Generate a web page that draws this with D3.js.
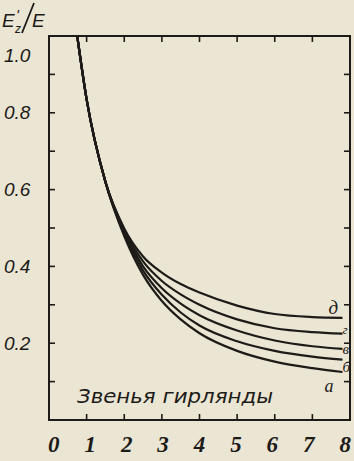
<!DOCTYPE html>
<html>
<head>
<meta charset="utf-8">
<script src="https://cdn.jsdelivr.net/npm/d3@7"></script>
<style>
  body { margin: 0; background: #ebe5d3; }
  svg { display: block; }
</style>
</head>
<body>
<script>
var w = 354;
var h = 461;

// data
//************** */
var links = [0.75, 1, 1.5, 2, 2.5, 3, 3.5, 4, 5, 6, 7, 7.8];
var curveNames = ["а", "б", "в", "г", "д"];
var curveA = [1.0, 0.835, 0.62, 0.479, 0.378, 0.31, 0.262, 0.226, 0.18, 0.152, 0.135, 0.125];
var curveB = [1.0, 0.835, 0.62, 0.484, 0.389, 0.326, 0.28, 0.246, 0.205, 0.18, 0.165, 0.157];
var curveV = [1.0, 0.835, 0.62, 0.489, 0.40, 0.343, 0.303, 0.273, 0.233, 0.207, 0.192, 0.185];
var curveG = [1.0, 0.835, 0.62, 0.494, 0.413, 0.362, 0.327, 0.3, 0.262, 0.239, 0.229, 0.225];
var curveD = [1.0, 0.835, 0.62, 0.499, 0.426, 0.384, 0.354, 0.332, 0.298, 0.276, 0.268, 0.266];
var xTicks = [0, 1, 2, 3, 4, 5, 6, 7, 8];
var yLabels = [0.2, 0.4, 0.6, 0.8, 1.0];
var yMinor = d3.range(1, 10).map(function (i) { return i / 10; });

var series = [curveA, curveB, curveV, curveG, curveD];

// label offsets from the end of each curve (px)
var labelDx = [-18, 0, 0, 0, -14];
var labelDy = [14, 7, 0, -4, -11];
var labelSize = [18, 15, 15, 13, 19];

var ink = "#1d1b18";

var x = d3.scaleLinear().domain([0, 8]).range([49, 350]);
var y = d3.scaleLinear().domain([0, 1]).range([420, 36]);

var svg = d3.select("body")
    .append("svg")
    .attr("width", w)
    .attr("height", h);

//Frame
//************** */
svg.append("rect")
    .attr("x", x(0))
    .attr("y", y(1))
    .attr("width", x(8) - x(0))
    .attr("height", y(0) - y(1))
    .style("fill", "none")
    .style("stroke", ink)
    .style("stroke-width", 2);

//inward ticks on all four sides
svg.selectAll(".tb")
    .data(xTicks.slice(1, -1))
    .enter()
    .append("line")
    .attr("x1", function (d) { return x(d); })
    .attr("x2", function (d) { return x(d); })
    .attr("y1", y(0))
    .attr("y2", y(0) - 6)
    .style("stroke", ink)
    .style("stroke-width", 1.6);

svg.selectAll(".tt")
    .data(xTicks.slice(1, -1))
    .enter()
    .append("line")
    .attr("x1", function (d) { return x(d); })
    .attr("x2", function (d) { return x(d); })
    .attr("y1", y(1))
    .attr("y2", y(1) + 6)
    .style("stroke", ink)
    .style("stroke-width", 1.6);

svg.selectAll(".tl")
    .data(yMinor)
    .enter()
    .append("line")
    .attr("x1", x(0))
    .attr("x2", x(0) + 6)
    .attr("y1", function (d) { return y(d); })
    .attr("y2", function (d) { return y(d); })
    .style("stroke", ink)
    .style("stroke-width", 1.6);

svg.selectAll(".tr")
    .data(yMinor)
    .enter()
    .append("line")
    .attr("x1", x(8))
    .attr("x2", x(8) - 6)
    .attr("y1", function (d) { return y(d); })
    .attr("y2", function (d) { return y(d); })
    .style("stroke", ink)
    .style("stroke-width", 1.6);

//Tick labels
//************** */
svg.selectAll(".xl")
    .data(xTicks)
    .enter()
    .append("text")
    .attr("x", function (d) { return x(d) + (4 - d) * 1.2; })
    .attr("y", 452)
    .attr("text-anchor", "middle")
    .style("font-family", "Liberation Serif")
    .style("font-style", "italic")
    .style("font-weight", "bold")
    .style("font-size", "23px")
    .style("fill", ink)
    .text(function (d) { return d; });

svg.selectAll(".yl")
    .data(yLabels)
    .enter()
    .append("text")
    .attr("x", 4)
    .attr("y", function (d) { return y(d) + (d == 1 ? 19 : 0); })
    .attr("dy", "0.35em")
    .style("font-family", "Liberation Sans")
    .style("font-style", "italic")
    .style("font-size", "19px")
    .style("fill", ink)
    .text(function (d) { return d.toFixed(1); });

//Axis title E'z/E
var title = svg.append("g")
    .style("font-family", "Liberation Sans")
    .style("font-style", "italic")
    .style("fill", ink);
title.append("text").attr("x", 2).attr("y", 27).style("font-size", "19px").text("E");
title.append("text").attr("x", 16).attr("y", 20).style("font-size", "15px").text("'");
title.append("text").attr("x", 15).attr("y", 33).style("font-size", "12px").text("z");
title.append("line")
    .attr("x1", 22).attr("y1", 33)
    .attr("x2", 34).attr("y2", 3)
    .style("stroke", ink)
    .style("stroke-width", 1.8);
title.append("text").attr("x", 32).attr("y", 27).style("font-size", "19px").text("E");

//Curves
//************** */
var line = d3.line()
    .x(function (d, i) { return x(links[i]); })
    .y(function (d) { return y(d); })
    .curve(d3.curveMonotoneX);

svg.selectAll(".curve")
    .data(series)
    .enter()
    .append("path")
    .attr("d", line)
    .style("fill", "none")
    .style("stroke", ink)
    .style("stroke-width", 2.2);

svg.selectAll(".cl")
    .data(series)
    .enter()
    .append("text")
    .attr("x", function (d, i) { return x(links[links.length - 1]) + labelDx[i]; })
    .attr("y", function (d, i) { return y(d[d.length - 1]) + labelDy[i]; })
    .attr("dy", "0.35em")
    .style("font-family", "Liberation Serif")
    .style("font-style", "italic")
    .style("font-size", function (d, i) { return labelSize[i] + "px"; })
    .style("fill", ink)
    .text(function (d, i) { return curveNames[i]; });

//x axis caption inside the plot
svg.append("text")
    .attr("x", 77)
    .attr("y", 403)
    .attr("textLength", 196)
    .attr("lengthAdjust", "spacingAndGlyphs")
    .style("font-family", "DejaVu Sans")
    .style("font-style", "italic")
    .style("font-size", "19px")
    .style("fill", ink)
    .text("Звенья гирлянды");
</script>
</body>
</html>
